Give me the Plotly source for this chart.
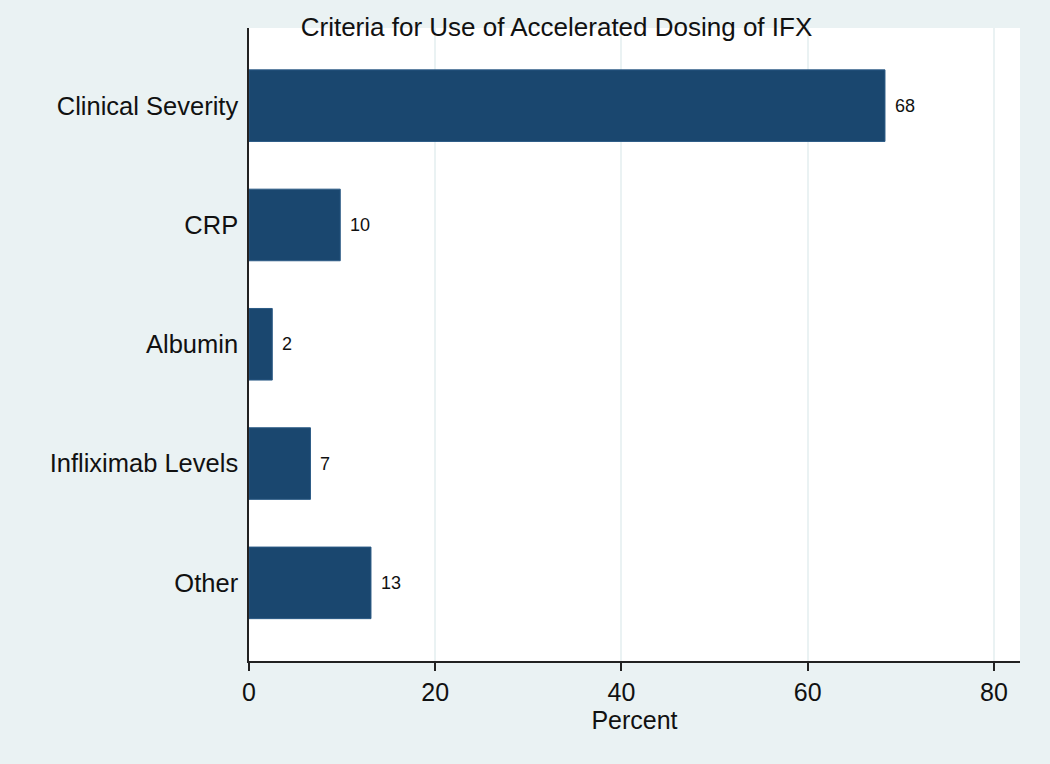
import plotly.graph_objects as go

categories = ["Clinical Severity", "CRP", "Albumin", "Infliximab Levels", "Other"]
values = [68.3, 9.8, 2.5, 6.6, 13.1]
labels = ["68", "10", "2", "7", "13"]
x_ticks = [0, 20, 40, 60, 80]

BG = "#EAF2F3"
BAR = "#1A476F"
FONT = "Liberation Sans, Arial, sans-serif"

fig = go.Figure()
fig.add_trace(go.Bar(
    x=values, y=categories, orientation="h",
    marker=dict(color=BAR, line=dict(color="#2b5a85", width=1)),
    width=0.6, hoverinfo="skip",
))

for v, c, t in zip(values, categories, labels):
    fig.add_annotation(x=v, y=c, text=t, showarrow=False, xanchor="left",
                       xshift=8, font=dict(family=FONT, size=18, color="#111"))

fig.update_layout(
    width=1050, height=764,
    paper_bgcolor=BG, plot_bgcolor="white",
    margin=dict(l=249, r=30, t=28, b=103),
    showlegend=False,
    font=dict(family=FONT, size=25, color="#111"),
    title=dict(text="Criteria for Use of Accelerated Dosing of IFX",
               x=556.5 / 1050, xref="container", xanchor="center",
               y=1 - 27 / 764, yref="container", yanchor="middle",
               font=dict(family=FONT, size=26, color="#111")),
)
fig.update_xaxes(
    range=[0, 82.8], tickvals=x_ticks, ticktext=[str(t) for t in x_ticks],
    showgrid=True, gridcolor=BG, gridwidth=2,
    showline=True, linecolor="#222", linewidth=1.5,
    ticks="outside", ticklen=8, tickcolor="#222", tickwidth=1.5,
    zeroline=False,
    title=dict(text="Percent", standoff=1, font=dict(size=25)),
    tickfont=dict(size=25),
)
fig.update_yaxes(
    categoryorder="array", categoryarray=categories,
    range=[4.655, -0.651],
    showgrid=False, showline=True, linecolor="#222", linewidth=1.5,
    ticks="", ticklabelstandoff=4, tickfont=dict(size=25.5),
    zeroline=False,
)

fig.write_html("out.html", config={"displayModeBar": False},
               post_script="document.body.style.margin='0';document.body.style.padding='0';")
